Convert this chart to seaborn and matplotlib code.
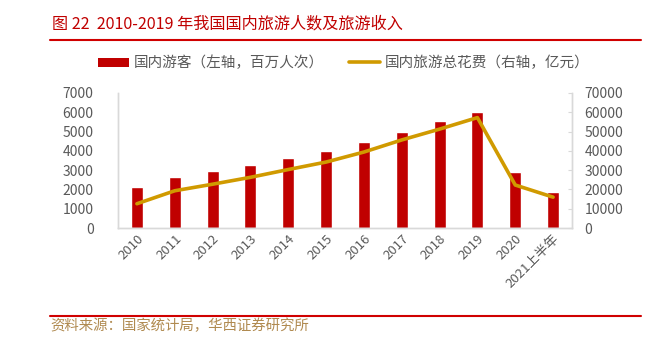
import numpy as np
import pandas as pd
import matplotlib
matplotlib.use("Agg")
import matplotlib.pyplot as plt
import seaborn as sns
from matplotlib.lines import Line2D
from matplotlib.patches import Patch

years = ["2010", "2011", "2012", "2013", "2014", "2015", "2016", "2017",
         "2018", "2019", "2020", "2021上半年"]
tourists = [2103, 2641, 2957, 3262, 3611, 3990, 4440, 5001, 5539, 6006, 2879, 1871]
spending = [12580, 19305, 22706, 26276, 30312, 34195, 39390, 45661, 51278, 57251, 22286, 16000]
left_ticks = [0, 1000, 2000, 3000, 4000, 5000, 6000, 7000]
right_ticks = [0, 10000, 20000, 30000, 40000, 50000, 60000, 70000]

sns.set_style("white")
plt.rcParams["font.family"] = ["Noto Sans CJK SC", "DejaVu Sans"]

BAR_RED = "#C00000"
GOLD = "#D09A00"
GRAY = "#595959"
SPINE = "#D9D9D9"

df = pd.DataFrame({"year": years, "tourists": tourists, "spending": spending})

fig = plt.figure(figsize=(6.48, 3.40), dpi=100)
ax = fig.add_axes([118 / 648, 1 - 228 / 340, 454 / 648, 135 / 340])

sns.barplot(data=df, x="year", y="tourists", color=BAR_RED, width=0.32,
            saturation=1, ax=ax)
ax.set_xlim(-0.5, len(years) - 0.5)
ax.set_ylim(0, 7000)
ax.set_yticks(left_ticks)
ax.set_xlabel("")
ax.set_ylabel("")

ax2 = ax.twinx()
sns.lineplot(x=np.arange(len(years)), y=df["spending"], color=GOLD,
             linewidth=2.6, ax=ax2)
ax2.set_ylim(0, 70000)
ax2.set_yticks(right_ticks)
ax2.set_ylabel("")
ax2.set_xlim(-0.5, len(years) - 0.5)

for a in (ax, ax2):
    a.spines["top"].set_visible(False)
    for side in ("left", "right", "bottom"):
        a.spines[side].set_color(SPINE)
        a.spines[side].set_linewidth(1.0)

ax.tick_params(axis="y", left=False, labelsize=10, labelcolor=GRAY, pad=14)
ax2.tick_params(axis="y", right=True, labelsize=10, labelcolor=GRAY,
                color=SPINE, length=3, direction="in", pad=9)

ax.tick_params(axis="x", length=0, labelsize=9.5, labelcolor=GRAY, pad=3)
ax.set_xticks(range(len(years)))
ax.set_xticklabels(years, rotation=45, ha="right", rotation_mode="anchor")

# legend row
handles = [Patch(facecolor=BAR_RED, edgecolor="none"),
           Line2D([0], [0], color=GOLD, linewidth=2.6)]
labels = ["国内游客（左轴，百万人次）", "国内旅游总花费（右轴，亿元）"]
fig.legend(handles, labels, loc="center", bbox_to_anchor=(344 / 648, 1 - 63 / 340),
           ncol=2, frameon=False, fontsize=10.5, labelcolor=GRAY,
           handlelength=2.1, handleheight=0.6, columnspacing=1.7,
           handletextpad=0.35)

# header and footer
fig.text(52 / 648, 1 - 24 / 340, "图 22  2010-2019 年我国国内旅游人数及旅游收入",
         color="#C00000", fontsize=11.6, ha="left", va="center")
fig.add_artist(Line2D([50 / 648, 641 / 648], [1 - 40 / 340, 1 - 40 / 340],
                      color="#D00000", linewidth=1.5))
fig.add_artist(Line2D([50 / 648, 641 / 648], [1 - 316 / 340, 1 - 316 / 340],
                      color="#D00000", linewidth=1.5))
fig.text(50 / 648, 1 - 326 / 340, "资料来源：国家统计局，华西证券研究所",
         color="#B08A50", fontsize=10.4, ha="left", va="center")

fig.savefig("out.png", dpi=100)
